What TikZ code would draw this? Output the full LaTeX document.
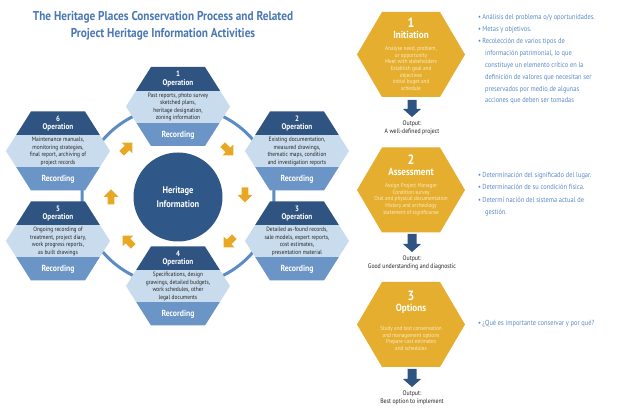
\documentclass[tikz,border=0pt]{standalone}
\usepackage{fontspec}
\setmainfont{PT Sans}[FakeStretch=0.88]
\definecolor{hdark}{HTML}{2F5482}
\definecolor{hlight}{HTML}{C9DCEE}
\definecolor{hmid}{HTML}{6A95C6}
\definecolor{ringc}{HTML}{5B8CC3}
\definecolor{circc}{HTML}{2F5787}
\definecolor{yel}{HTML}{E9A823}
\definecolor{ohex}{HTML}{E6AE2E}
\definecolor{otxt}{HTML}{FBEBC4}
\definecolor{bblue}{HTML}{5A8BC6}
\definecolor{ttl}{HTML}{4A78B3}
\tikzset{
  numtxt/.style={text=white,font=\bfseries\fontsize{7.8}{8}\selectfont,inner sep=0},
  optxt/.style={text=white,font=\bfseries\fontsize{8.2}{9}\selectfont,inner sep=0},
  rectxt/.style={text=white,font=\bfseries\fontsize{8.8}{9}\selectfont,inner sep=0},
  hextxt/.style={text=black!85,font=\fontsize{6.2}{7.5}\selectfont,inner sep=0,align=center},
  onum/.style={text=white,font=\bfseries\fontsize{13.5}{14}\selectfont,inner sep=0},
  otitle/.style={text=white,font=\bfseries\fontsize{10.3}{11}\selectfont,inner sep=0},
  ohtxt/.style={text=otxt,font=\fontsize{5.9}{6.6}\selectfont,inner sep=0,align=center},
  outtxt/.style={text=black!85,font=\fontsize{6.6}{8.2}\selectfont,inner sep=0,align=center},
  btxt/.style={text=bblue,font=\fontsize{7.3}{9}\selectfont,inner sep=0,anchor=base west},
  ttltxt/.style={text=ttl,font=\bfseries\fontsize{12.8}{17}\selectfont,inner sep=0,align=center},
}
\newcommand\ophex[5]{%
  \begin{scope}
    \clip (#2-52,#3) -- (#2-27,#3-39.5) -- (#2+27,#3-39.5) -- (#2+52,#3) -- (#2+27,#3+39.5) -- (#2-27,#3+39.5) -- cycle;
    \fill[hdark] (#2-60,#3-41) rectangle (#2+60,#3-15.5);
    \fill[hlight] (#2-60,#3-15.5) rectangle (#2+60,#3+16.5);
    \fill[hmid] (#2-60,#3+16.5) rectangle (#2+60,#3+41);
  \end{scope}
  \node[numtxt] (#1num) at (#2,#3-32.5) {#4};
  \node[optxt] (#1op) at (#2,#3-23.5) {Operation};
  \node[hextxt] (#1txt) at (#2,#3+0.5) {#5};
  \node[rectxt] (#1rec) at (#2,#3+28.5) {Recording};
}
\newcommand\orhex[1]{%
  \fill[ohex] (411-54,#1) -- (411-29,#1-42.5) -- (411+29,#1-42.5) -- (411+54,#1) -- (411+29,#1+42.5) -- (411-29,#1+42.5) -- cycle;
}
\newcommand\yarrow[3]{%
  \begin{scope}[shift={(#1,#2)},rotate=#3]
    \fill[yel] (-7.5,-3.3) -- (0,-3.3) -- (0,-7.5) -- (7.5,0) -- (0,7.5) -- (0,3.3) -- (-7.5,3.3) -- cycle;
  \end{scope}
}
\newcommand\barrow[2]{%
  \fill[hdark] (412-4.5,#1) -- (412+4.5,#1) -- (412+4.5,#2-8) -- (412+9,#2-8) -- (412,#2) -- (412-9,#2-8) -- (412-4.5,#2-8) -- cycle;
}
\begin{document}
\begin{tikzpicture}[x=1pt,y=-1pt]
\useasboundingbox (0,0) rectangle (630,419);
\fill[white] (0,0) rectangle (630,419);

% title
\node[ttltxt] (title) at (163,25.5) {The Heritage Places Conservation Process and Related\\Project Heritage Information Activities};

% ring
\draw[ringc,line width=3] (178,196) ellipse [x radius=96, y radius=90];

% center
\node[circle,fill=circc,minimum size=89,inner sep=0,text=white,font=\bfseries\fontsize{9.6}{14.5}\selectfont,align=center] (heritage) at (178,197) {Heritage\\Information};

% hexagons
\ophex{h1}{178}{106.5}{1}{Past reports, photo survey\\sketched plans,\\heritage designation,\\zoning information}
\ophex{h2}{297}{151}{2}{Existing documentation,\\measured drawings,\\thematic maps, condition\\and investigation reports}
\ophex{h3}{297}{241}{3}{Detailed as-found records,\\sale models, expert reports,\\cost estimates,\\presentation material}
\ophex{h4}{178}{286}{4}{Specifications, design\\grawings, detailed budgets,\\work schedules, other\\legal documents}
\ophex{h5}{58}{241}{5}{Ongoing recording of\\treatment, project diary,\\work progress reports,\\as built drawings}
\ophex{h6}{58}{151}{6}{Maintenance manuals,\\monitoring strategies,\\final report, archiving of\\project records}

% yellow arrows
\yarrow{127}{148}{45}
\yarrow{228}{150}{-45}
\yarrow{245}{195}{-90}
\yarrow{229}{242}{-135}
\yarrow{128}{241}{135}
\yarrow{111}{197}{90}

% orange process
\orhex{54.5}
\node[onum] (o1num) at (411,22.5) {1};
\node[otitle] (o1t) at (411,35) {Initiation};
\node[ohtxt] (o1txt) at (411,68.5) {Analyse need, problem,\\or opportunity\\Meet with stakeholders\\Establish goal and\\objectives\\initial buget and\\schedule};
\barrow{100}{117}
\node[outtxt] (out1) at (412,128) {Output:\\A well-defined project};

\orhex{190}
\node[onum] (o2num) at (411,159.5) {2};
\node[otitle] (o2t) at (411,172) {Assessment};
\node[ohtxt] (o2txt) at (411,199.5) {Assign Project Manager\\Condition survey\\Oral and physical documentation\\History and archeology\\statement of significanse};
\barrow{234}{252}
\node[outtxt] (out2) at (412,262.5) {Output:\\Good understanding and diagnostic};

\orhex{324.5}
\node[onum] (o3num) at (411,296) {3};
\node[otitle] (o3t) at (411,308.5) {Options};
\node[ohtxt] (o3txt) at (411,338.5) {Study and test conservation\\and management options\\Prepare cost estimates\\and schedules};
\barrow{369}{387}
\node[outtxt] (out3) at (412,397.5) {Output:\\Best option to implement};

% bullets
\node[btxt] (b1) at (478,19.5) {\textbullet\,Análisis del problema o/y oportunidades.};
\node[btxt] (b2) at (478,31.5) {\textbullet\,Metas y objetivos.};
\node[btxt] (b3) at (478,44) {\textbullet\,Recolección de varios tipos de};
\node[btxt] (b4) at (485,55.8) {información patrimonial, lo que};
\node[btxt] (b5) at (485,67.6) {constituye un elemento crítico en la};
\node[btxt] (b6) at (485,79.4) {definición de valores que necesitan ser};
\node[btxt] (b7) at (485,91.2) {preservados por medio de algunas};
\node[btxt] (b8) at (485,103) {acciones que deben ser tomadas};

\node[btxt] (c1) at (478,177.5) {\textbullet\,Determinación del significado del lugar.};
\node[btxt] (c2) at (478,190) {\textbullet\,Determinación de su condición física.};
\node[btxt] (c3) at (478,202.5) {\textbullet\,Determi nación del sistema actual de};
\node[btxt] (c4) at (485,214.5) {gestión.};

\node[btxt] (d1) at (478,325.5) {\textbullet\,¿Qué es importante conservar y por qué?};
\end{tikzpicture}
\end{document}
